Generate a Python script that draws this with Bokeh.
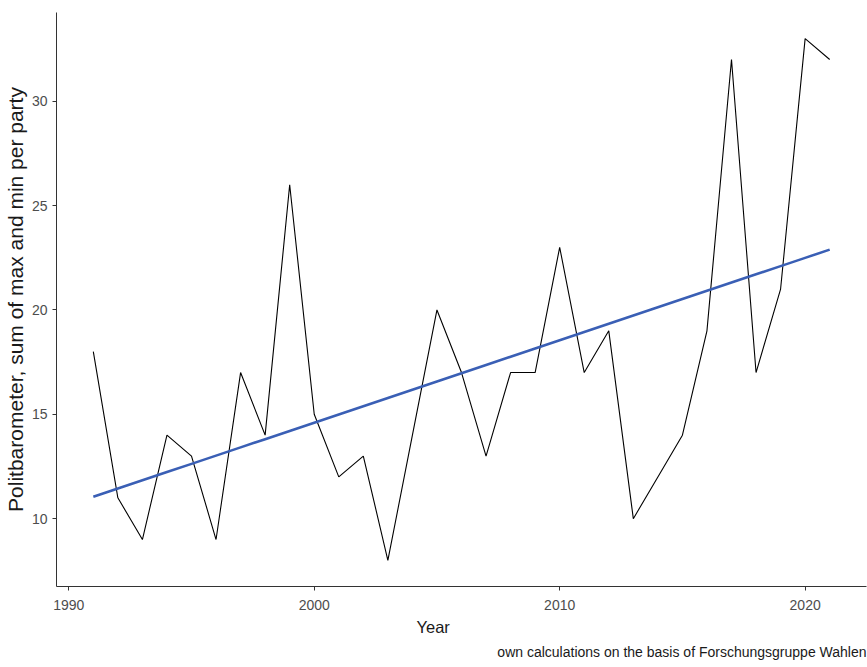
import numpy as np
from bokeh.plotting import figure
from bokeh.models import Range1d, FixedTicker, Title
from bokeh.embed import file_html
from bokeh.resources import INLINE

years = list(range(1991, 2022))
values = [18, 11, 9, 14, 13, 9, 17, 14, 26, 15, 12, 13, 8, 14, 20, 17,
          13, 17, 17, 23, 17, 19, 10, 12, 14, 19, 32, 17, 21, 33, 32]
x_ticks = [1990, 2000, 2010, 2020]
y_ticks = [10, 15, 20, 25, 30]
x_label = "Year"
y_label = "Politbarometer, sum of max and min per party"
caption = "own calculations on the basis of Forschungsgruppe Wahlen"

# linear trend (lm fit of the values)
slope, intercept = np.polyfit(years, values, 1)
trend = [slope * yr + intercept for yr in years]

FONT = "Liberation Sans"

p = figure(width=867, height=667, output_backend="svg", toolbar_location=None,
           x_range=Range1d(1989.5, 2022.5), y_range=Range1d(6.75, 34.25),
           min_border_left=56, min_border_right=1, min_border_top=12,
           min_border_bottom=81)
p.outline_line_color = None
p.background_fill_color = "white"
p.border_fill_color = "white"
p.xgrid.visible = False
p.ygrid.visible = False

p.line(years, values, line_color="black", line_width=1.1)
p.line(years, trend, line_color="#3A5FB5", line_width=2.6)

for ax, ticks in ((p.xaxis[0], x_ticks), (p.yaxis[0], y_ticks)):
    ax.ticker = FixedTicker(ticks=ticks)
    ax.minor_tick_line_color = None
    ax.major_tick_in = 0
    ax.major_tick_out = 4
    ax.major_tick_line_color = "#333333"
    ax.axis_line_color = "#333333"
    ax.axis_line_width = 1
    ax.major_label_text_font = FONT
    ax.major_label_text_font_size = "14px"
    ax.major_label_text_color = "#4D4D4D"

p.xaxis[0].major_label_standoff = 9
p.yaxis[0].major_label_standoff = 5

p.yaxis[0].axis_label = y_label
p.yaxis[0].axis_label_text_font = FONT
p.yaxis[0].axis_label_text_font_size = "21px"
p.yaxis[0].axis_label_text_font_style = "normal"
p.yaxis[0].axis_label_text_color = "#1A1A1A"
p.yaxis[0].axis_label_text_line_height = 1.0
p.yaxis[0].axis_label_standoff = 2

p.add_layout(Title(text=x_label, align="left", offset=360, standoff=6,
                   text_font=FONT, text_font_size="16.5px",
                   text_font_style="normal", text_color="#1A1A1A"), "below")
p.add_layout(Title(text=caption, align="right", standoff=7,
                   text_font=FONT, text_font_size="14px",
                   text_font_style="normal", text_color="#1A1A1A"), "below")

open("out.html", "w").write(file_html(p, INLINE))
